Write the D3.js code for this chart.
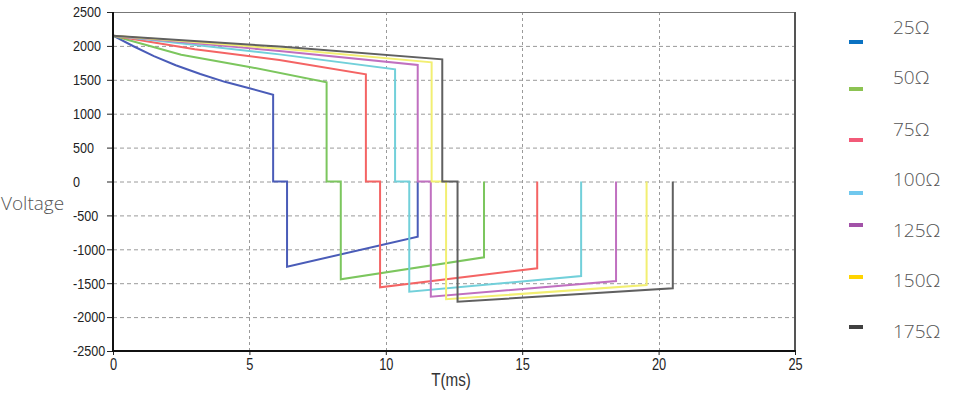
<!DOCTYPE html>
<html>
<head>
<meta charset="utf-8">
<script src="https://cdn.jsdelivr.net/npm/d3@7"></script>
<style>
    body { margin: 0; background: #fff; }
    svg { display: block; }
    .tick text { font-family: "Liberation Sans", Arial, sans-serif; font-size: 16px; fill: #222; }
    .grid line { stroke: #9a9a9a; stroke-width: 1; }
    .label { font-family: "Open Sans", "Noto Sans", sans-serif; font-weight: 300; font-size: 19px; fill: #555; }
</style>
</head>
<body>
<div id="chart"></div>
<script>
// legend names and colours
const names = ["25Ω", "50Ω", "75Ω", "100Ω", "125Ω", "150Ω", "175Ω"];
const lineColors = ["#4a5cb8", "#7cc65e", "#f46464", "#72d0da", "#c070c0", "#f2ef72", "#606060"];
const legendColors = ["#0a72c2", "#8cc352", "#f25a78", "#70c8ee", "#a252a8", "#ffd400", "#404040"];

// [T(ms), Voltage]
const wave25 = [[0, 2150], [0.75, 1995], [1.5, 1850], [2.3, 1715], [3.2, 1585], [4.1, 1470], [5, 1375], [5.87, 1280], [5.87, 0], [6.38, 0], [6.38, -1257], [11.17, -814], [11.17, 0]];
const wave50 = [[0, 2150], [2.5, 1870], [5, 1690], [7.83, 1463], [7.83, 0], [8.35, 0], [8.35, -1443], [13.6, -1118], [13.6, 0]];
const wave75 = [[0, 2150], [3, 1950], [6.1, 1792], [9.27, 1581], [9.27, 0], [9.79, 0], [9.79, -1560], [15.55, -1280], [15.55, 0]];
const wave100 = [[0, 2150], [6.1, 1875], [10.34, 1655], [10.34, 0], [10.86, 0], [10.86, -1625], [17.16, -1394], [17.16, 0]];
const wave125 = [[0, 2150], [6.1, 1925], [11.17, 1718], [11.17, 0], [11.65, 0], [11.65, -1699], [18.44, -1468], [18.44, 0]];
const wave150 = [[0, 2150], [6.1, 1960], [11.68, 1758], [11.68, 0], [12.21, 0], [12.21, -1737], [19.56, -1527], [19.56, 0]];
const wave175 = [[0, 2150], [6.1, 1990], [12.07, 1802], [12.07, 0], [12.63, 0], [12.63, -1772], [20.52, -1575], [20.52, 0]];
const waves = [wave25, wave50, wave75, wave100, wave125, wave150, wave175];

const xTicks = [0, 5, 10, 15, 20, 25];
const yTicks = [-2500, -2000, -1500, -1000, -500, 0, 500, 1000, 1500, 2000, 2500];

let margin = {top: 12, left: 113},
    width = 682,
    height = 339;

let svg = d3.select("#chart").append("svg")
    .attr("width", 960)
    .attr("height", 398);

let xScale = d3.scaleLinear().domain([0, 25]).range([margin.left, margin.left + width]),
    yScale = d3.scaleLinear().domain([-2500, 2500]).range([margin.top + height, margin.top]);

// squeeze text horizontally, the original uses a condensed face
function narrow(sel, k) {
    sel.each(function() {
        let w = this.getComputedTextLength();
        d3.select(this).attr("textLength", w * k).attr("lengthAdjust", "spacingAndGlyphs");
    });
}

// dashed grid
let grid = svg.append("g").attr("class", "grid");
grid.selectAll(".h").data(yTicks.filter(d => d > -2500 && d < 2500)).enter().append("line")
    .attr("x1", margin.left).attr("x2", margin.left + width)
    .attr("y1", d => yScale(d) + 0.5).attr("y2", d => yScale(d) + 0.5)
    .attr("stroke-dasharray", "4 3");
grid.selectAll(".v").data(xTicks.filter(d => d > 0 && d < 25)).enter().append("line")
    .attr("x1", d => Math.round(xScale(d)) + 0.5).attr("x2", d => Math.round(xScale(d)) + 0.5)
    .attr("y1", margin.top).attr("y2", margin.top + height)
    .attr("stroke-dasharray", "3 3");

// curves
let line = d3.line().x(d => xScale(d[0])).y(d => yScale(d[1]));
svg.append("g").selectAll("path").data(waves).enter().append("path")
    .attr("d", line)
    .attr("fill", "none")
    .attr("stroke", (d, i) => lineColors[i])
    .attr("stroke-width", 2);

// frame
svg.append("line").attr("x1", margin.left).attr("x2", margin.left + width)
    .attr("y1", margin.top + 0.5).attr("y2", margin.top + 0.5)
    .attr("stroke", "#777").attr("stroke-width", 1);
svg.append("line").attr("x1", margin.left + width).attr("x2", margin.left + width)
    .attr("y1", margin.top).attr("y2", margin.top + height)
    .attr("stroke", "#555").attr("stroke-width", 2);

// axes
let yAxis = d3.axisLeft(yScale).tickValues(yTicks).tickSize(6)
    .tickFormat(d => d < 0 ? "-" + Math.abs(d) : d);
let gy = svg.append("g")
    .attr("transform", "translate(" + margin.left + ",0)")
    .call(yAxis);
gy.select(".domain").remove();
gy.selectAll(".tick line").attr("stroke", "#222");
gy.selectAll(".tick text").attr("x", 73 - margin.left).style("text-anchor", "start")
    .style("font-size", "15px")
    .call(narrow, 0.84);

let xAxis = d3.axisBottom(xScale).tickValues(xTicks).tickSize(4).tickPadding(4);
let gx = svg.append("g")
    .attr("transform", "translate(0," + (margin.top + height) + ")")
    .call(xAxis);
gx.select(".domain").remove();
gx.selectAll(".tick line").attr("stroke", "#222");
gx.selectAll(".tick text").call(narrow, 0.8);

svg.append("line").attr("x1", margin.left).attr("x2", margin.left)
    .attr("y1", margin.top).attr("y2", margin.top + height + 1)
    .attr("stroke", "#111").attr("stroke-width", 2);
svg.append("line").attr("x1", margin.left - 1).attr("x2", margin.left + width + 1)
    .attr("y1", margin.top + height).attr("y2", margin.top + height)
    .attr("stroke", "#111").attr("stroke-width", 2);

// axis titles
svg.append("text")
    .attr("x", 451).attr("y", 386)
    .style("text-anchor", "middle")
    .style("font-family", "'Liberation Sans', Arial, sans-serif")
    .style("font-size", "19px")
    .attr("fill", "#333")
    .text("T(ms)")
    .call(narrow, 0.8);

svg.append("text")
    .attr("class", "label")
    .attr("x", 1).attr("y", 210)
    .text("Voltage");

// legend (labels sit a bit above their swatch for the first entries)
let swatchY = [42, 89, 140, 193, 225, 277, 327],
    labelY = [27, 77, 129, 179, 230, 280, 331];

let legend = svg.append("g").selectAll("g").data(names).enter().append("g");
legend.append("rect")
    .attr("x", 849).attr("y", (d, i) => swatchY[i] - 2)
    .attr("width", 14).attr("height", 4)
    .attr("fill", (d, i) => legendColors[i]);
legend.append("text")
    .attr("class", "label")
    .attr("x", 893).attr("y", (d, i) => labelY[i])
    .attr("dy", "0.35em")
    .text(d => d);
</script>
</body>
</html>
